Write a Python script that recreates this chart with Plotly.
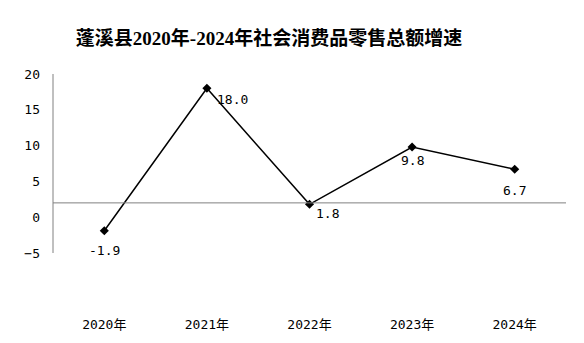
import plotly.graph_objects as go

categories = ["2020年", "2021年", "2022年", "2023年", "2024年"]
values = [-1.9, 18.0, 1.8, 9.8, 6.7]
label_texts = ["-1.9", "18.0", "1.8", "9.8", "6.7"]
y_ticks = [-5, 0, 5, 10, 15, 20]
baseline = 2

# label offsets (style)
xshifts = [0, 26, 18, 0, 0]
yshifts = [-20, -11, -9, -13, -21]

mono = "DejaVu Sans Mono, Noto Sans CJK SC, sans-serif"

fig = go.Figure()
fig.add_trace(go.Scatter(
    x=categories, y=values, mode="lines+markers",
    line=dict(color="black", width=1.5),
    marker=dict(symbol="diamond", size=7, color="black"),
    showlegend=False, hoverinfo="skip",
))

for c, v, t, xs, ys in zip(categories, values, label_texts, xshifts, yshifts):
    fig.add_annotation(x=c, y=v, text=t, showarrow=False, xshift=xs, yshift=ys,
                       font=dict(family=mono, size=13, color="black"))

fig.add_shape(type="line", xref="paper", yref="y", x0=0, x1=1, y0=baseline, y1=baseline,
              line=dict(color="#808080", width=1))
fig.add_shape(type="line", xref="paper", yref="paper", x0=0, x1=0, y0=0, y1=1,
              line=dict(color="#808080", width=1))

fig.update_layout(
    width=584, height=343,
    margin=dict(l=53, r=18, t=74, b=90),
    paper_bgcolor="white", plot_bgcolor="white",
    title=dict(text="<b>蓬溪县2020年-2024年社会消费品零售总额增速</b>",
               x=269/584, xanchor="center", xref="container",
               y=1 - 38/343, yanchor="middle",
               font=dict(family="Liberation Serif, Noto Sans CJK SC, serif", size=19, color="black")),
    xaxis=dict(range=[-0.5, 4.5], showgrid=False, zeroline=False, showline=False,
               ticks="", ticklabelstandoff=62,
               tickfont=dict(family=mono, size=13, color="black")),
    yaxis=dict(range=[-5, 20], tickvals=y_ticks, showgrid=False, zeroline=False,
               showline=False, ticks="", ticklabelstandoff=12,
               tickfont=dict(family=mono, size=13, color="black")),
)

fig.write_html("out.html")
